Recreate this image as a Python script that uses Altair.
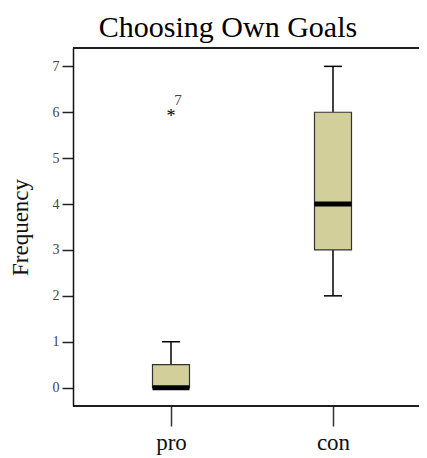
import altair as alt
import pandas as pd

groups = ["pro", "con"]
mins = [0, 2]
q1s = [0, 3]
medians = [0, 4]
q3s = [0.5, 6]
maxs = [1, 7]
outlier_group = ["pro"]
outlier_value = [6]
outlier_case = ["7"]

df = pd.DataFrame({"group": groups, "min": mins, "q1": q1s, "median": medians,
                   "q3": q3s, "max": maxs})
odf = pd.DataFrame({"group": outlier_group, "value": outlier_value, "case": outlier_case})

FONT = "Liberation Serif"
W, H = 346, 358

xscale = alt.Scale(type="point", domain=groups, range=[98, 260], padding=0)
yscale = alt.Scale(domain=[-0.4, 7.4], nice=False, zero=False)

x = alt.X("group:N", scale=xscale, sort=groups,
          axis=alt.Axis(title=None, labelAngle=0, labelFont=FONT, labelFontSize=23,
                        labelColor="#111", tickSize=20, tickColor="#333", tickWidth=1.5,
                        domain=False, labelPadding=5))
y_axis = alt.Axis(title="Frequency", titleFont=FONT, titleFontSize=23, titleFontWeight="normal",
                  titleColor="#111", titlePadding=20, values=list(range(8)), labelFont=FONT,
                  labelFontSize=14, labelColor="#444", tickSize=11, tickColor="#222",
                  tickWidth=1.5, domainColor="#111", domainWidth=1.5, grid=False, labelPadding=3)

base = alt.Chart(df)

lower = base.mark_rule(color="black", strokeWidth=1.5).encode(
    x=x, y=alt.Y("min:Q", scale=yscale, axis=y_axis), y2="q1:Q")
upper = base.mark_rule(color="black", strokeWidth=1.5).encode(
    x=x, y=alt.Y("q3:Q", scale=yscale), y2="max:Q")
cap_lo = base.mark_tick(color="black", size=18, thickness=1.5, opacity=1).encode(
    x=x, y=alt.Y("min:Q", scale=yscale))
cap_hi = base.mark_tick(color="black", size=18, thickness=1.5, opacity=1).encode(
    x=x, y=alt.Y("max:Q", scale=yscale))
box = base.mark_bar(size=37, fill="#D3CF9B", stroke="#333", strokeWidth=1.2).encode(
    x=x, y=alt.Y("q1:Q", scale=yscale), y2="q3:Q")
med = base.mark_tick(color="black", size=37, thickness=5, opacity=1).encode(
    x=x, y=alt.Y("median:Q", scale=yscale))

star = alt.Chart(odf).mark_text(text="*", font=FONT, fontSize=18, color="black", dy=5).encode(
    x=x, y=alt.Y("value:Q", scale=yscale))
case = alt.Chart(odf).mark_text(font=FONT, fontSize=15, color="#444", dx=7, dy=-12).encode(
    x=x, y=alt.Y("value:Q", scale=yscale), text="case:N")

topline = alt.Chart(df).mark_rule(color="#111", strokeWidth=1.5).encode(
    x=alt.value(0), x2=alt.value(W), y=alt.value(0))
bottomline = alt.Chart(df).mark_rule(color="#111", strokeWidth=1.5).encode(
    x=alt.value(0), x2=alt.value(W), y=alt.value(H))

chart = alt.layer(lower, upper, cap_lo, cap_hi, box, med, star, case, topline, bottomline).properties(
    width=W, height=H,
    title=alt.TitleParams("Choosing Own Goals", anchor="middle", frame="group", dx=-18, offset=4),
    autosize=alt.AutoSizeParams(type="none"),
    padding={"left": 65, "top": 40, "right": 0, "bottom": 50},
).configure_view(stroke=None).configure_title(
    font=FONT, fontSize=30, fontWeight="normal", color="black")

chart.save("out.html", embed_options={"renderer": "svg", "actions": False})
